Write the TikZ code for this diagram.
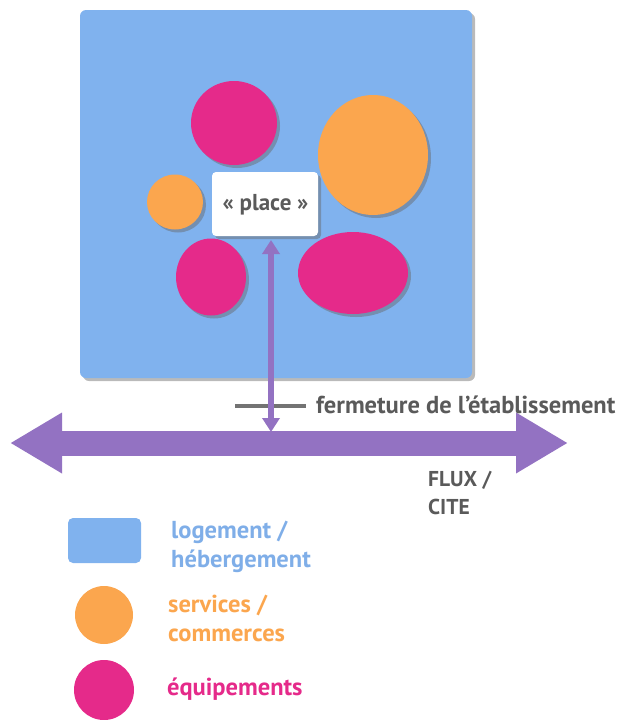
\documentclass[tikz,border=0pt]{standalone}
\usepackage{fontspec}
\setmainfont{PT Sans}
\usetikzlibrary{arrows.meta,shadows,shapes.geometric}
\definecolor{cblue}{HTML}{80B2EE}
\definecolor{corange}{HTML}{FBA64E}
\definecolor{cpink}{HTML}{E52A8A}
\definecolor{cpurple}{HTML}{9372C2}
\definecolor{cgray}{HTML}{5A5A5A}
\definecolor{ltblue}{HTML}{7FAEE8}
\begin{document}
\begin{tikzpicture}[x=1pt,y=-1pt,
  shd/.style={drop shadow={shadow xshift=3pt,shadow yshift=-3pt,opacity=0.45,fill=black!60}},
  blob/.style={ellipse, inner sep=0pt, shd},
  lbl/.style={font=\bfseries\fontsize{24.5}{29}\selectfont, anchor=base west, inner sep=0pt},
]
\useasboundingbox (0,0) rectangle (620,720);
% main block
\node[fill=cblue, rounded corners=6pt, minimum width=392pt, minimum height=368pt, inner sep=0pt, shd] (block) at (276,194) {};
% blobs
\node[blob, fill=cpink, minimum width=86pt, minimum height=84pt] (p1) at (234,123) {};
\node[blob, fill=corange, minimum width=110pt, minimum height=120pt] (o1) at (373,155) {};
\node[blob, fill=corange, minimum width=56pt, minimum height=55pt] (o2) at (175,202) {};
\node[blob, fill=cpink, minimum width=70pt, minimum height=77pt] (p2) at (211,277) {};
\node[blob, fill=cpink, minimum width=110pt, minimum height=82pt] (p3) at (353,273) {};
% place
\node[fill=white, rounded corners=4pt, minimum width=106pt, minimum height=64pt, inner sep=0pt, shd] (place) at (265,204) {};
\node[font=\bfseries\fontsize{23}{24}\selectfont, text=cgray, anchor=base, inner sep=0pt] (placet) at (265.5,210) {« place »};
% horizontal flux arrow
\coordinate (hl) at (10,443);
\coordinate (hr) at (568,443);
\draw[cpurple, line width=25pt, {Triangle[width=57pt,length=52pt]}-{Triangle[width=57pt,length=52pt]}] (hl) -- (hr);
% gray closing line
\coordinate (gl) at (235,406);
\coordinate (gr) at (306,406);
\draw[cgray!85, line width=4pt] (gl) -- (gr);
% vertical arrow
\coordinate (vt) at (271,240);
\coordinate (vb) at (271,432);
\draw[cpurple, line width=6pt, {Triangle[width=17pt,length=14pt]}-{Triangle[width=17pt,length=14pt]}] (vt) -- (vb);
% labels
\node[lbl, text=cgray] (ferm) at (316,413) {fermeture de l’établissement};
\node[lbl, text=cgray, font=\bfseries\fontsize{21.5}{28}\selectfont] (flux) at (428,486) {FLUX /};
\node[lbl, text=cgray, font=\bfseries\fontsize{21.5}{28}\selectfont] (cite) at (428,514) {CITE};
% legend
\node[fill=cblue, rounded corners=5pt, minimum width=73pt, minimum height=45pt, inner sep=0pt] (lg1) at (104.5,540.5) {};
\node[lbl, text=ltblue] (t1a) at (171,538) {logement /};
\node[lbl, text=ltblue] (t1b) at (171,567) {hébergement};
\node[circle, fill=corange, minimum size=58pt, inner sep=0pt] (lg2) at (104,615) {};
\node[lbl, text=corange] (t2a) at (168,612) {services /};
\node[lbl, text=corange] (t2b) at (168,641) {commerces};
\node[circle, fill=cpink, minimum size=60pt, inner sep=0pt] (lg3) at (104,690) {};
\node[lbl, text=cpink] (t3) at (167,695) {équipements};
\end{tikzpicture}
\end{document}
